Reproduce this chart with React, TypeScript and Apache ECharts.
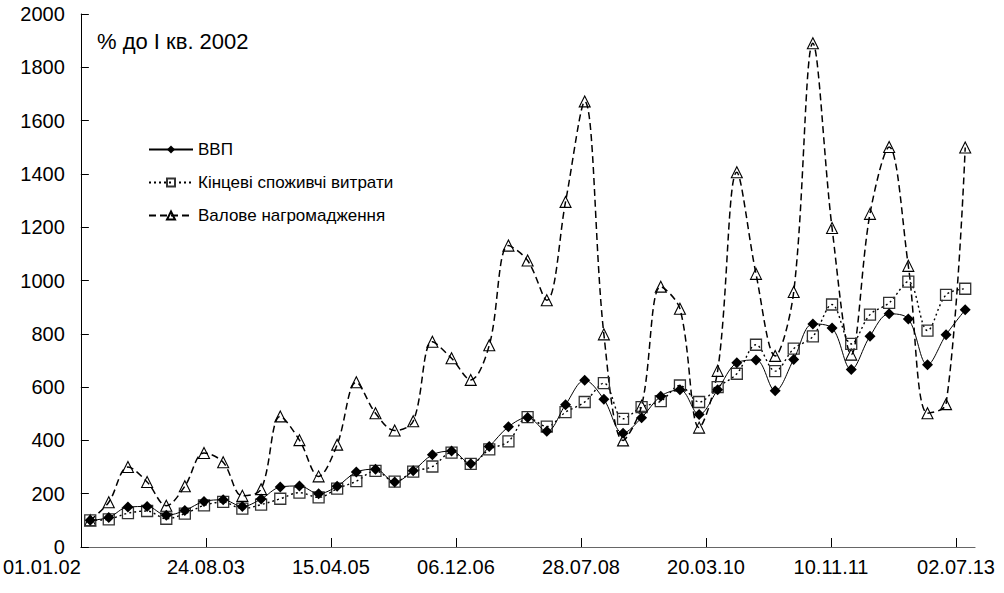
import React, { useEffect, useRef } from 'react';
import * as echarts from 'echarts';

// Mid-quarter dates of each observation (I кв. 2002 … III кв. 2013)
const quarterDates = [
  '2002-02-15', '2002-05-15', '2002-08-15', '2002-11-15',
  '2003-02-15', '2003-05-15', '2003-08-15', '2003-11-15',
  '2004-02-15', '2004-05-15', '2004-08-15', '2004-11-15',
  '2005-02-15', '2005-05-15', '2005-08-15', '2005-11-15',
  '2006-02-15', '2006-05-15', '2006-08-15', '2006-11-15',
  '2007-02-15', '2007-05-15', '2007-08-15', '2007-11-15',
  '2008-02-15', '2008-05-15', '2008-08-15', '2008-11-15',
  '2009-02-15', '2009-05-15', '2009-08-15', '2009-11-15',
  '2010-02-15', '2010-05-15', '2010-08-15', '2010-11-15',
  '2011-02-15', '2011-05-15', '2011-08-15', '2011-11-15',
  '2012-02-15', '2012-05-15', '2012-08-15', '2012-11-15',
  '2013-02-15', '2013-05-15', '2013-08-15',
];

// ВВП
const gdp = [
  100, 111, 150, 152, 119, 137, 171, 177, 152, 180,
  225, 229, 200, 228, 281, 292, 244, 286, 346, 360,
  312, 377, 451, 486, 434, 534, 626, 554, 427, 485,
  566, 590, 497, 590, 691, 702, 586, 704, 837, 822,
  666, 791, 875, 856, 684, 796, 890,
];

// Кінцеві споживчі витрати
const consumption = [
  100, 104, 127, 135, 106, 125, 156, 169, 144, 159,
  181, 204, 186, 219, 247, 286, 245, 283, 302, 354,
  312, 366, 396, 487, 452, 506, 544, 615, 481, 525,
  547, 606, 544, 600, 650, 759, 660, 744, 790, 910,
  762, 872, 916, 996, 812, 946, 969,
];

// Валове нагромадження
const investment = [
  100, 168, 300, 244, 155, 228, 353, 318, 192, 217,
  490, 401, 265, 384, 618, 502, 437, 472, 770, 708,
  627, 757, 1131, 1075, 926, 1295, 1672, 798, 400, 530,
  977, 894, 448, 661, 1406, 1025, 717, 957, 1890, 1197,
  722, 1250, 1501, 1055, 502, 536, 1499,
];

const seriesNames = ['ВВП', 'Кінцеві споживчі витрати', 'Валове нагромадження'];
const xTickLabels = ['01.01.02', '24.08.03', '15.04.05', '06.12.06', '28.07.08', '20.03.10', '10.11.11', '02.07.13'];
const xAxisEnd = '2013-10-01';
const yTicks = [0, 200, 400, 600, 800, 1000, 1200, 1400, 1600, 1800, 2000];
const titleText = '% до І кв. 2002';

const DAY = 86400000;
const ORIGIN = Date.UTC(2002, 0, 1);
const isoToDays = (s: string) => {
  const [y, m, d] = s.split('-').map(Number);
  return Math.round((Date.UTC(y, m - 1, d) - ORIGIN) / DAY);
};
const labelToDays = (s: string) => {
  const [d, m, y] = s.split('.').map(Number);
  return Math.round((Date.UTC(2000 + y, m - 1, d) - ORIGIN) / DAY);
};
const xTicks = xTickLabels.map(labelToDays);

const FONT = '"Liberation Sans", Arial, sans-serif';

export default function App() {
  const ref = useRef<HTMLDivElement>(null);

  useEffect(() => {
    if (!ref.current) return;
    const chart = echarts.init(ref.current, null, { renderer: 'svg' });
    const mk = (vals: number[]) => quarterDates.map((d, i) => [isoToDays(d), vals[i]]);

    chart.setOption({
      animation: false,
      backgroundColor: '#ffffff',
      textStyle: { fontFamily: FONT },
      grid: { left: 77, right: 29, top: 14, bottom: 46 },
      graphic: [
        {
          type: 'text',
          left: 97,
          top: 30,
          style: { text: titleText, fontSize: 22, fontFamily: FONT, fill: '#000' },
        },
      ],
      legend: {
        orient: 'vertical',
        left: 148,
        top: 141,
        padding: 0,
        itemWidth: 44,
        itemHeight: 10,
        itemGap: 16,
        data: seriesNames,
        textStyle: { fontSize: 17, color: '#000', fontFamily: FONT },
      },
      xAxis: {
        type: 'value',
        min: 0,
        max: isoToDays(xAxisEnd),
        interval: xTicks[1] - xTicks[0],
        splitLine: { show: false },
        axisLine: { lineStyle: { color: '#666', width: 1.2 } },
        axisTick: { inside: true, length: 9, lineStyle: { color: '#000' }, customValues: xTicks },
        axisLabel: {
          customValues: xTicks,
          fontSize: 20,
          color: '#000',
          margin: 10,
          alignMinLabel: 'right',
          formatter: (v: number) => {
            const i = xTicks.indexOf(Math.round(v));
            return i >= 0 ? xTickLabels[i] : '';
          },
        },
      },
      yAxis: {
        type: 'value',
        min: yTicks[0],
        max: yTicks[yTicks.length - 1],
        interval: yTicks[1] - yTicks[0],
        splitLine: { show: false },
        axisLine: { show: true, lineStyle: { color: '#000', width: 1 } },
        axisTick: { show: true, inside: true, length: 8, lineStyle: { color: '#000' } },
        axisLabel: {
          fontSize: 20,
          color: '#000',
          margin: 16,
          formatter: (v: number) => String(v),
        },
      },
      series: [
        {
          name: seriesNames[0],
          type: 'line',
          z: 4,
          data: mk(gdp),
          smooth: 0.35,
          symbol: 'diamond',
          symbolSize: 11,
          lineStyle: { color: '#000', width: 1, type: 'solid' },
          itemStyle: { color: '#000', borderColor: '#000', borderWidth: 0 },
        },
        {
          name: seriesNames[1],
          type: 'line',
          z: 3,
          data: mk(consumption),
          smooth: 0.35,
          symbol: 'rect',
          symbolSize: 11,
          lineStyle: { color: '#000', width: 1.4, type: [2, 3] },
          itemStyle: { color: 'rgba(255,255,255,0)', borderColor: '#333', borderWidth: 1.3 },
        },
        {
          name: seriesNames[2],
          type: 'line',
          z: 2,
          data: mk(investment),
          smooth: 0.35,
          symbol: 'triangle',
          symbolSize: 11,
          lineStyle: { color: '#000', width: 1.5, type: [7, 4] },
          itemStyle: { color: 'rgba(255,255,255,0)', borderColor: '#000', borderWidth: 1.1 },
        },
      ],
    });

    return () => chart.dispose();
  }, []);

  return (
    <div
      ref={ref}
      style={{ position: 'fixed', left: 0, top: 0, width: 1004, height: 593, background: '#fff' }}
    />
  );
}
